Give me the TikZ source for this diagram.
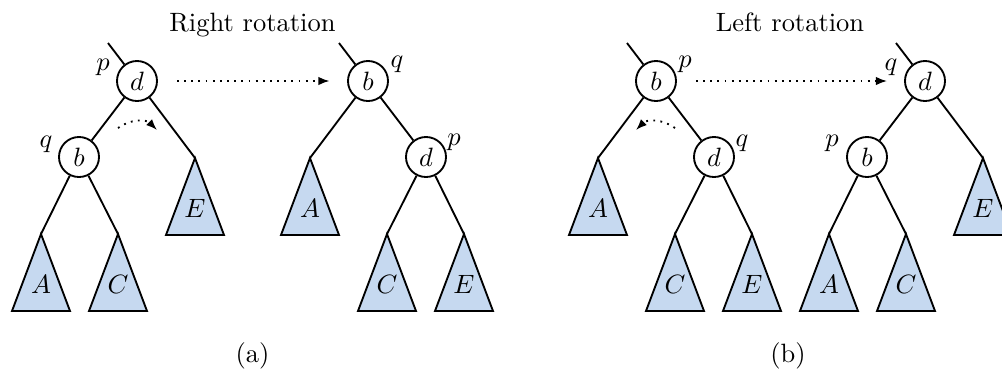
\documentclass[tikz,border=0pt]{standalone}
\usetikzlibrary{arrows.meta}
\definecolor{trifill}{RGB}{198,217,240}
\newcommand\subtr[2]{%
  \draw[tri] (#1) -- ++(29,77) -- ++(-58,0) -- cycle;
  \path (#1) ++(0,50) node {$#2$};}
\begin{document}
\begin{tikzpicture}[x=0.3774pt,y=-0.3774pt,
  every node/.style={inner sep=0pt},
  key/.style={circle,draw,line width=0.7pt,minimum size=15.1pt,inner sep=0pt},
  edge/.style={line width=0.7pt},
  tri/.style={draw,fill=trifill,line width=0.7pt,line join=miter},
  flow/.style={dotted,line width=0.7pt,-{Latex[length=4.2pt,width=3.2pt]}}]
\useasboundingbox (0,0) rectangle (1002,377);

% ---------- (a) before ----------
\node[key] (dL) at (137,81) {$d$};
\node[key] (bL) at (79,157) {$b$};
\coordinate (sa) at (108,43);
\coordinate (tE1) at (195,158);
\coordinate (tA1) at (41,234);
\coordinate (tC1) at (118,234);
\subtr{tE1}{E}
\subtr{tA1}{A}
\subtr{tC1}{C}
\draw[edge] (sa) -- (dL);
\draw[edge] (dL) -- (bL);
\draw[edge] (dL) -- (tE1);
\draw[edge] (bL) -- (tA1);
\draw[edge] (bL) -- (tC1);
\node (pa1) at (103,67) {$p$};
\node (qa1) at (46,144) {$q$};

% ---------- (a) after ----------
\node[key] (bR) at (368,81) {$b$};
\node[key] (dR) at (426,157) {$d$};
\coordinate (sb) at (339,43);
\coordinate (tA2) at (310,158);
\coordinate (tC2) at (387,234);
\coordinate (tE2) at (464,234);
\subtr{tA2}{A}
\subtr{tC2}{C}
\subtr{tE2}{E}
\draw[edge] (sb) -- (bR);
\draw[edge] (bR) -- (dR);
\draw[edge] (bR) -- (tA2);
\draw[edge] (dR) -- (tC2);
\draw[edge] (dR) -- (tE2);
\node (qa2) at (397,64) {$q$};
\node (pa2) at (454,142) {$p$};

\draw[flow] ([xshift=7.2pt]dL.east) -- ([xshift=-6.6pt]bR.west);
\coordinate (ca1) at (118,128);
\coordinate (ca2) at (157,130);
\draw[flow] (ca1) .. controls (130,119) and (146,119) .. (ca2);

\node[anchor=base] (ta) at (252.5,31) {Right rotation};
\node[anchor=base] (cap) at (252.5,362) {(a)};

% ---------- (b) before ----------
\node[key] (bL2) at (656,81) {$b$};
\node[key] (dL2) at (714,157) {$d$};
\coordinate (sc) at (627,43);
\coordinate (tA3) at (598,158);
\coordinate (tC3) at (675,234);
\coordinate (tE3) at (752,234);
\subtr{tA3}{A}
\subtr{tC3}{C}
\subtr{tE3}{E}
\draw[edge] (sc) -- (bL2);
\draw[edge] (bL2) -- (dL2);
\draw[edge] (bL2) -- (tA3);
\draw[edge] (dL2) -- (tC3);
\draw[edge] (dL2) -- (tE3);
\node (pb1) at (685,64) {$p$};
\node (qb1) at (742,143) {$q$};

% ---------- (b) after ----------
\node[key] (dR2) at (925,81) {$d$};
\node[key] (bR2) at (867,157) {$b$};
\coordinate (sd) at (896,43);
\coordinate (tE4) at (983,158);
\coordinate (tA4) at (829,234);
\coordinate (tC4) at (906,234);
\subtr{tE4}{E}
\subtr{tA4}{A}
\subtr{tC4}{C}
\draw[edge] (sd) -- (dR2);
\draw[edge] (dR2) -- (bR2);
\draw[edge] (dR2) -- (tE4);
\draw[edge] (bR2) -- (tA4);
\draw[edge] (bR2) -- (tC4);
\node (qb2) at (891,67) {$q$};
\node (pb2) at (832,143) {$p$};

\draw[flow] ([xshift=7.2pt]bL2.east) -- ([xshift=-6.4pt]dR2.west);
\coordinate (cb1) at (675,128);
\coordinate (cb2) at (636,130);
\draw[flow] (cb1) .. controls (663,119) and (647,119) .. (cb2);

\node[anchor=base] (tb) at (790,31) {Left rotation};
\node[anchor=base] (cbp) at (788,362) {(b)};
\end{tikzpicture}
\end{document}
